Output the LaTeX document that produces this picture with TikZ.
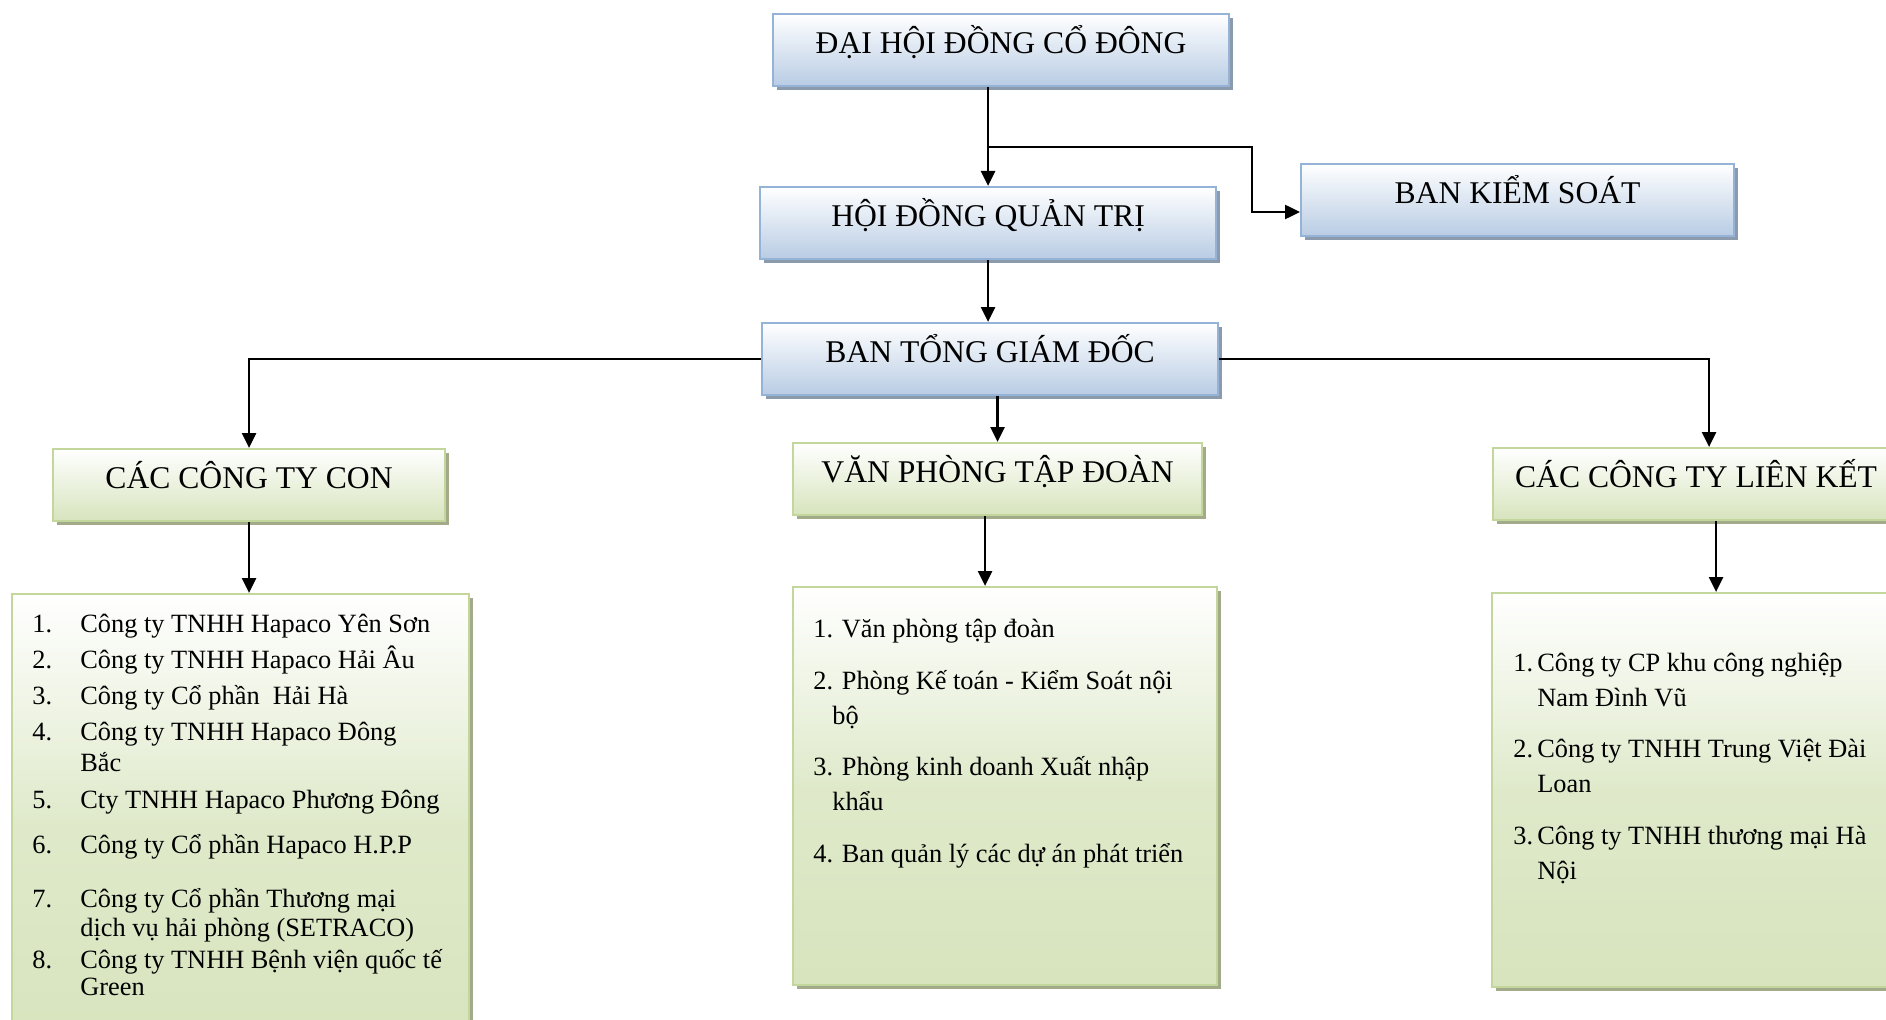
\documentclass[tikz,border=0pt]{standalone}
\usepackage{fontspec}
\setmainfont{Liberation Serif}
\usepackage{tikz}
\usetikzlibrary{arrows.meta,shadows}
\definecolor{bluefill}{HTML}{B8CCE4}
\definecolor{blueline}{HTML}{95B3D7}
\definecolor{blueshadow}{HTML}{8C9AAD}
\definecolor{greenfill}{HTML}{D7E4BD}
\definecolor{greenline}{HTML}{C3D69B}
\definecolor{greenshadow}{HTML}{A2AA8A}
\newcommand\pxunit{0.02}
\tikzset{boxbase/.style={rectangle, anchor=north west, line width=1.2pt, inner sep=0pt}}
\tikzset{headbox/.style={boxbase, draw=blueline, top color=white, bottom color=bluefill, drop shadow={shadow xshift=0.08cm, shadow yshift=-0.08cm, fill=blueshadow, opacity=1}, font=\fontsize{18}{22}\selectfont, text height=0.78cm, text depth=0.66cm}}
\tikzset{unitbox/.style={boxbase, draw=greenline, top color=white, bottom color=greenfill, drop shadow={shadow xshift=0.08cm, shadow yshift=-0.08cm, fill=greenshadow, opacity=1}, font=\fontsize{18}{22}\selectfont, text height=0.78cm, text depth=0.66cm}}
\tikzset{listbox/.style={boxbase, draw=greenline, top color=white, bottom color=greenfill, middle color=greenfill!80!white, drop shadow={shadow xshift=0.08cm, shadow yshift=-0.08cm, fill=greenshadow, opacity=1}}}
\tikzset{itemtext/.style={anchor=base west, inner sep=0pt, font=\fontsize{15}{18}\selectfont}}
\tikzset{arrow/.style={line width=1.4pt, ->, >={Triangle[length=0.3cm, width=0.28cm]}}}

\begin{document}
\begin{tikzpicture}[x=\pxunit cm, y=-\pxunit cm]
\useasboundingbox (0,0) rectangle (1886,1020);
\fill[white] (0,0) rectangle (1886,1020);
\clip (0,0) rectangle (1886,1020);

% upper levels
\node[headbox, minimum width=456*\pxunit cm] (dhdcd) at (772,13) {ĐẠI HỘI ĐỒNG CỔ ĐÔNG};
\node[headbox, minimum width=456*\pxunit cm] (hdqt) at (759,186) {HỘI ĐỒNG QUẢN TRỊ};
\node[headbox, minimum width=433*\pxunit cm] (bks) at (1300,163) {BAN KIỂM SOÁT};
\node[headbox, minimum width=456*\pxunit cm] (btgd) at (761,322) {BAN TỔNG GIÁM ĐỐC};

% units
\node[unitbox, minimum width=392*\pxunit cm] (cctc) at (52,448) {CÁC CÔNG TY CON};
\node[unitbox, minimum width=409*\pxunit cm] (vptd) at (792,442) {VĂN PHÒNG TẬP ĐOÀN};
\node[unitbox, minimum width=406*\pxunit cm] (ctlk) at (1492,447) {CÁC CÔNG TY LIÊN KẾT};

% lists
\node[listbox, minimum width=457*\pxunit cm, minimum height=460*\pxunit cm] (listcon) at (11,593) {};
\node[listbox, minimum width=424*\pxunit cm, minimum height=398*\pxunit cm] (listvp) at (792,586) {};
\node[listbox, minimum width=406*\pxunit cm, minimum height=394*\pxunit cm] (listlk) at (1491,592) {};

\foreach \yy [count=\i] in {632,668,704,740,808,853,907,968} {
	\node[itemtext] (connum\i) at (32,\yy) {\i.};
}
\foreach \yy/\txt [count=\i] in {632/Công ty TNHH Hapaco Yên Sơn, 668/Công ty TNHH Hapaco Hải Âu, 704/Công ty Cổ phần \ Hải Hà, 740/Công ty TNHH Hapaco Đông, 771/Bắc, 808/Cty TNHH Hapaco Phương Đông, 853/Công ty Cổ phần Hapaco H.P.P, 907/Công ty Cổ phần Thương mại, 936/dịch vụ hải phòng (SETRACO), 968/Công ty TNHH Bệnh viện quốc tế, 995/Green} {
	\node[itemtext] (con\i) at (80,\yy) {\txt};
}
\foreach \xx/\yy/\txt [count=\i] in {813/637/1. Văn phòng tập đoàn, 813/689/2. Phòng Kế toán - Kiểm Soát nội, 832/724/bộ, 813/775/3. Phòng kinh doanh Xuất nhập, 832/810/khẩu, 813/862/4. Ban quản lý các dự án phát triển} {
	\node[itemtext] (vp\i) at (\xx,\yy) {\txt};
}
\foreach \yy [count=\i] in {671,757,844} {
	\node[itemtext] (lknum\i) at (1513,\yy) {\i.};
}
\foreach \yy/\txt [count=\i] in {671/Công ty CP khu công nghiệp, 706/Nam Đình Vũ, 757/Công ty TNHH Trung Việt Đài, 792/Loan, 844/Công ty TNHH thương mại Hà, 879/Nội} {
	\node[itemtext] (lk\i) at (1537,\yy) {\txt};
}

% connectors
\coordinate (split) at (988,147);
\coordinate (bend) at (1252,212);
\draw[arrow] (hdqt.north |- dhdcd.south) -- (hdqt.north);
\draw[arrow] (split) -| (bend) -- (bend -| bks.west);
\draw[arrow] (hdqt.south) -- (hdqt.south |- btgd.north);
\draw[arrow] (btgd.west) -| (cctc.north);
\draw[arrow] (btgd.east) -| ([xshift=0.26cm]ctlk.north);
\draw[arrow] (vptd.north |- btgd.south) -- (vptd.north);
\draw[arrow] (cctc.south) -- (cctc.south |- listcon.north);
\draw[arrow] ([xshift=-0.25cm]vptd.south) -- ([xshift=-0.25cm]vptd.south |- listvp.north);
\draw[arrow] ([xshift=0.4cm]ctlk.south) -- ([xshift=0.4cm]ctlk.south |- listlk.north);
\end{tikzpicture}
\end{document}
